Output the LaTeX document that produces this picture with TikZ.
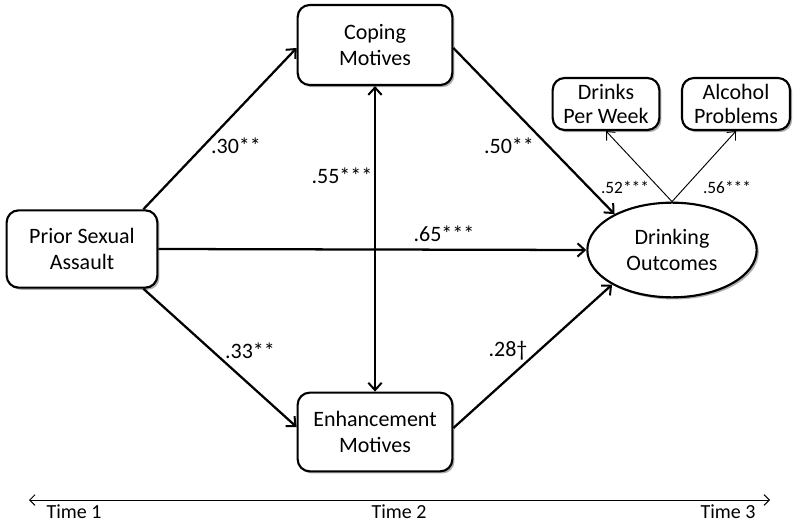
\documentclass[tikz,border=0pt]{standalone}
\usepackage{fontspec}
\setmainfont{Carlito}
\usetikzlibrary{arrows.meta,shadows,calc,shapes.geometric}
\begin{document}
\begin{tikzpicture}[x=0.75pt,y=-0.75pt,
  box/.style={draw=black,line width=1.6pt,rounded corners=9pt,fill=white,align=center,
    inner sep=0pt,font=\fontsize{16.5}{19}\selectfont,
    drop shadow={shadow xshift=1.6pt,shadow yshift=-1.6pt,fill=black!45,opacity=0.7}},
  smallbox/.style={box,font=\fontsize{16.5}{17.5}\selectfont},
  oval/.style={ellipse,draw=black,line width=1.6pt,fill=white,align=center,inner sep=0pt,
    font=\fontsize{16.5}{19}\selectfont,
    drop shadow={shadow xshift=1.6pt,shadow yshift=-1.6pt,fill=black!45,opacity=0.7}},
  path/.style={line width=1.7pt,-{Straight Barb[length=5.5pt,width=10pt,line width=1.5pt]}},
  dpath/.style={line width=1.7pt,{Straight Barb[length=5.5pt,width=10pt,line width=1.5pt]}-{Straight Barb[length=5.5pt,width=10pt,line width=1.5pt]}},
  load/.style={line width=0.7pt,-{Straight Barb[length=5pt,width=9pt,line width=0.7pt]}},
  lab/.style={font=\fontsize{16.5}{19}\selectfont,inner sep=0pt},
  slab/.style={font=\fontsize{13}{15}\selectfont,inner sep=0pt},
  tlab/.style={font=\fontsize{15}{17}\selectfont,inner sep=0pt}]
\useasboundingbox (0,0) rectangle (800,524);
\node[box,minimum width=113pt,minimum height=58pt] (P) at (82,249) {Prior Sexual\\Assault};
\node[box,minimum width=116pt,minimum height=60pt] (C) at (375,45) {Coping\\Motives};
\node[box,minimum width=116pt,minimum height=59pt] (E) at (375,432) {Enhancement\\Motives};
\node[oval,minimum width=127pt,minimum height=71pt] (D) at (672,250) {Drinking\\Outcomes};
\node[smallbox,minimum width=80pt,minimum height=39pt] (W) at (606,104) {Drinks\\Per Week};
\node[smallbox,minimum width=81pt,minimum height=39pt] (A) at (736,104) {Alcohol\\Problems};

\draw[path] ($(P.north east)+(-15,0)$) -- ($(C.west)+(0,3)$);
\draw[path] ($(P.south east)+(-15,0)$) -- ($(E.west)+(0,-5)$);
\draw[path] (P.east) -- (D.west);
\draw[path] ($(C.east)+(0,3)$) -- (D.148);
\draw[path] ($(E.east)+(0,-4)$) -- (D.210);
\draw[dpath] (C.south) -- (E.north);
\draw[load] (D.north) -- (W.south);
\draw[load] (D.north) -- (A.south);

\node[lab] (l30) at (236,146) {.30**};
\node[lab] (l55) at (342,176) {.55***};
\node[lab] (l50) at (509,146) {.50**};
\node[lab] (l65) at (444,234) {.65***};
\node[lab] (l33) at (250,351) {.33**};
\node[lab] (l28) at (508,351) {.28†};
\node[slab] (l52) at (625,187) {.52***};
\node[slab] (l56) at (727,187) {.56***};

\coordinate (T1) at (29,500);
\coordinate (T3) at (770,500);
\draw[line width=0.7pt,{Straight Barb[length=4pt,width=8pt,line width=0.7pt]}-{Straight Barb[length=4pt,width=8pt,line width=0.7pt]}] (T1) -- (T3);
\node[tlab] (t1) at (74,512) {Time 1};
\node[tlab] (t2) at (399,512) {Time 2};
\node[tlab] (t3) at (728,512) {Time 3};
\end{tikzpicture}
\end{document}
